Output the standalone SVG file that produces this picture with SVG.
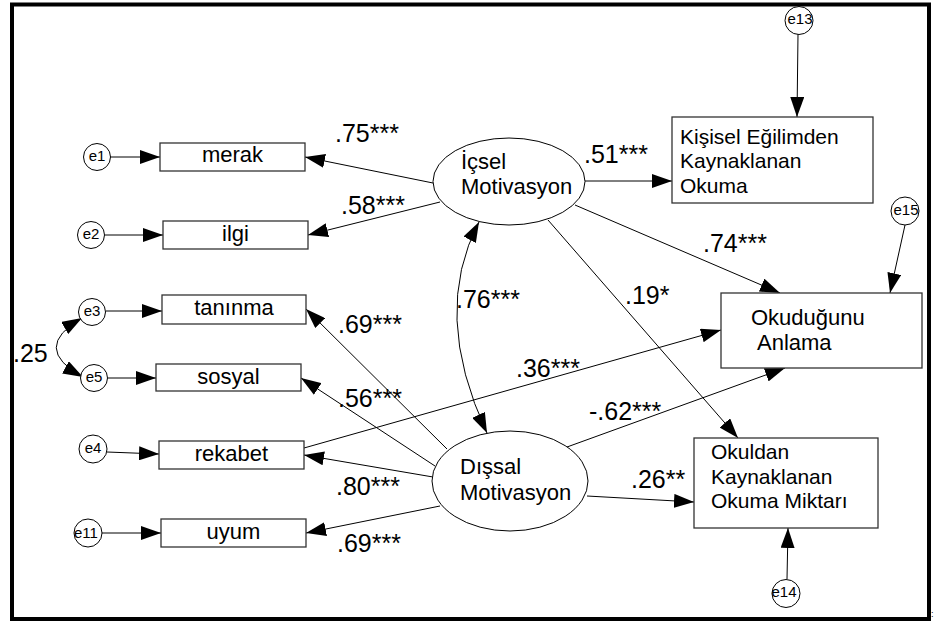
<svg xmlns="http://www.w3.org/2000/svg" width="937" height="623" viewBox="0 0 937 623">
<defs>
<marker id="ah" markerUnits="userSpaceOnUse" markerWidth="20" markerHeight="14" refX="20" refY="7" orient="auto-start-reverse" viewBox="0 0 20 14">
<path d="M0,0 L20,7 L0,14 z" fill="#000"/>
</marker>
<style>
text{font-family:"Liberation Sans",Arial,sans-serif;fill:#000}
.lbl{font-size:22px}
.rb{font-size:21px}
.cf{font-size:25px}
.el{font-size:15px}
.box{fill:#fff;stroke:#333;stroke-width:1.3}
.err{fill:#fff;stroke:#000;stroke-width:1}
.lat{fill:#fff;stroke:#000;stroke-width:1}
.c line,.c path{stroke:#000;stroke-width:1;fill:none}
.a{marker-end:url(#ah)}
.d{marker-start:url(#ah);marker-end:url(#ah)}
</style>
</defs>
<rect x="12" y="4.5" width="917" height="614.5" fill="#fff" stroke="#000" stroke-width="4"/>
<text x="931" y="617" style="font-size:9px">:</text>

<g id="connectors" class="c">
<line class="a" x1="110" y1="157" x2="160" y2="157"/>
<line class="a" x1="105" y1="235" x2="163" y2="235"/>
<line class="a" x1="106" y1="311" x2="162" y2="311"/>
<line class="a" x1="108" y1="378" x2="156" y2="378"/>
<line class="a" x1="107" y1="452" x2="159" y2="454"/>
<line class="a" x1="102" y1="533" x2="161" y2="533"/>
<line class="a" x1="433" y1="183" x2="305" y2="157"/>
<line class="a" x1="440" y1="202" x2="308" y2="235"/>
<line class="a" x1="447" y1="449" x2="306" y2="309"/>
<line class="a" x1="435" y1="466" x2="301" y2="378"/>
<line class="a" x1="433" y1="477" x2="304" y2="455"/>
<line class="a" x1="440" y1="506" x2="306" y2="533"/>
<line class="a" x1="304" y1="448" x2="721" y2="330"/>
<line class="a" x1="567" y1="447" x2="785" y2="368"/>
<line class="a" x1="548" y1="220" x2="738" y2="438"/>
<line class="a" x1="575" y1="205" x2="780" y2="293"/>
<line class="a" x1="585" y1="181" x2="672" y2="181"/>
<line class="a" x1="587" y1="496" x2="694" y2="502"/>
<line class="a" x1="798" y1="34" x2="797" y2="117"/>
<line class="a" x1="905" y1="225" x2="890" y2="293"/>
<line class="a" x1="787" y1="579" x2="788" y2="528"/>
<path class="d" d="M479,222 Q431,313 487,433"/>
<path class="d" d="M82,318 Q30,348 83,377"/>
</g>

<g id="e1"><circle class="err" cx="97" cy="157" r="13.5"/><text class="el" x="97" y="161" text-anchor="middle">e1</text></g>
<g id="e2"><circle class="err" cx="91" cy="235" r="13.5"/><text class="el" x="91" y="239" text-anchor="middle">e2</text></g>
<g id="e3"><circle class="err" cx="92" cy="312" r="13.5"/><text class="el" x="92" y="316" text-anchor="middle">e3</text></g>
<g id="e5"><circle class="err" cx="94" cy="378" r="13.5"/><text class="el" x="94" y="382" text-anchor="middle">e5</text></g>
<g id="e4"><circle class="err" cx="93" cy="449" r="14"/><text class="el" x="93" y="453" text-anchor="middle">e4</text></g>
<g id="e11"><circle class="err" cx="88" cy="533" r="14"/><text class="el" x="86" y="538" text-anchor="middle">e11</text></g>
<g id="e13"><circle class="err" cx="799" cy="20.5" r="14"/><text class="el" x="800" y="24" text-anchor="middle">e13</text></g>
<g id="e15"><circle class="err" cx="905" cy="211" r="14"/><text class="el" x="906" y="215" text-anchor="middle">e15</text></g>
<g id="e14"><circle class="err" cx="786" cy="593.5" r="14"/><text class="el" x="784" y="597" text-anchor="middle">e14</text></g>

<g id="merak"><rect class="box" x="160" y="143" width="145" height="28"/><text class="lbl" x="232.5" y="162" text-anchor="middle">merak</text></g>
<g id="ilgi"><rect class="box" x="163" y="221" width="145" height="28"/><text class="lbl" x="235.5" y="241" text-anchor="middle">ilgi</text></g>
<g id="taninma"><rect class="box" x="162" y="295" width="144" height="29"/><text class="lbl" x="234" y="315" text-anchor="middle">tanınma</text></g>
<g id="sosyal"><rect class="box" x="156" y="364" width="145" height="27"/><text class="lbl" x="228.5" y="384" text-anchor="middle">sosyal</text></g>
<g id="rekabet"><rect class="box" x="159" y="441" width="145" height="28"/><text class="lbl" x="231.5" y="461" text-anchor="middle">rekabet</text></g>
<g id="uyum"><rect class="box" x="161" y="519" width="145" height="28"/><text class="lbl" x="233.5" y="539" text-anchor="middle">uyum</text></g>

<g id="icsel"><ellipse class="lat" cx="509" cy="181.5" rx="76" ry="43.5"/><text class="lbl" x="461" y="169">İçsel</text><text class="lbl" x="461" y="194">Motivasyon</text></g>
<g id="dissal"><ellipse class="lat" cx="510" cy="481" rx="78" ry="50"/><text class="lbl" x="460" y="474">Dışsal</text><text class="lbl" x="460" y="500">Motivasyon</text></g>

<g id="kisisel"><rect class="box" x="672" y="117" width="201" height="86"/><text class="rb" x="680" y="144">Kişisel Eğilimden</text><text class="rb" x="680" y="168">Kaynaklanan</text><text class="rb" x="680" y="193">Okuma</text></g>
<g id="okudugunu"><rect class="box" x="721" y="293" width="201" height="75"/><text class="lbl" x="751" y="325">Okuduğunu</text><text class="lbl" x="757" y="350">Anlama</text></g>
<g id="okuldan"><rect class="box" x="694" y="438" width="184" height="90"/><text class="rb" x="711" y="459">Okuldan</text><text class="rb" x="711" y="484">Kaynaklanan</text><text class="rb" x="711" y="508">Okuma Miktarı</text></g>

<g id="coefs">
<text class="cf" x="335" y="142">.75***</text>
<text class="cf" x="341" y="214">.58***</text>
<text class="cf" x="338" y="333">.69***</text>
<text class="cf" x="338" y="407">.56***</text>
<text class="cf" x="336" y="495">.80***</text>
<text class="cf" x="337" y="552">.69***</text>
<text class="cf" x="13" y="362">.25</text>
<text class="cf" x="456" y="308">.76***</text>
<text class="cf" x="584" y="163">.51***</text>
<text class="cf" x="703" y="252">.74***</text>
<text class="cf" x="625" y="304">.19*</text>
<text class="cf" x="516" y="377">.36***</text>
<text class="cf" x="589" y="420">-.62***</text>
<text class="cf" x="631" y="488">.26**</text>
</g>
</svg>
